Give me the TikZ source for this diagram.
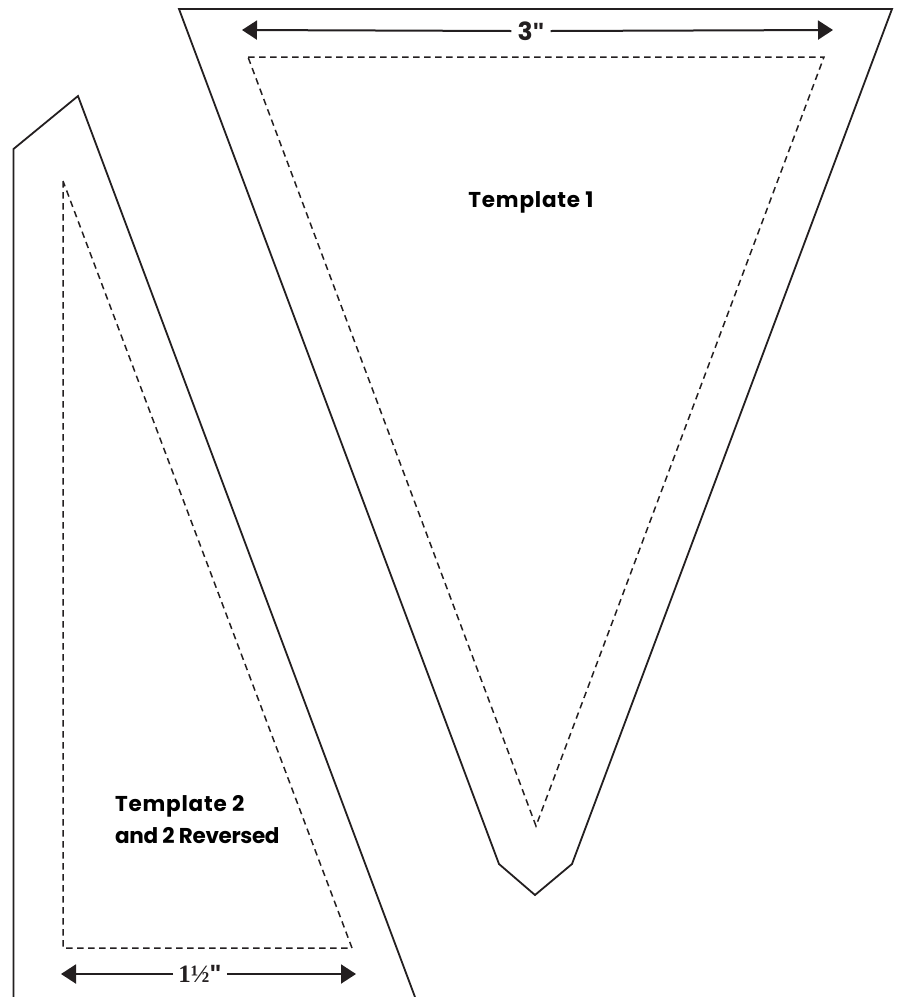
\documentclass[tikz,border=0pt]{standalone}
\usepackage{fontspec}
\setmainfont{Poppins}
\newfontfamily\fracfont{Liberation Serif}
\newfontfamily\quotefont{Liberation Sans}
\usetikzlibrary{arrows.meta,positioning}
\definecolor{inkline}{HTML}{231F20}
\newcommand{\widetext}[1]{{\addfontfeature{LetterSpace=3.6}#1}}
\newcommand{\narrowtext}[1]{{\addfontfeature{LetterSpace=-1.6}#1}}
\tikzset{
  cutline/.style={draw=inkline,line width=1.8pt,line join=miter},
  seamline/.style={draw=inkline,line width=1.5pt,dash pattern=on 6.5pt off 4.5pt},
  measure/.style={draw=inkline,line width=2pt,-{Triangle[width=19pt,length=15pt]}},
  tplabel/.style={align=left,font=\fontsize{21.5}{32}\selectfont\bfseries,text=black,inner sep=0pt},
  sizelabel/.style={font=\fontsize{25}{26}\selectfont\bfseries,text=inkline,inner sep=0pt}
}
\begin{document}
\begin{tikzpicture}[x=1pt,y=-1pt]
   \useasboundingbox (0,0) rectangle (901,997);

   \coordinate (t1a) at (179,9);
   \coordinate (t1b) at (892,9);
   \coordinate (t1c) at (572,864);
   \coordinate (t1d) at (535,895);
   \coordinate (t1e) at (499,864);
   \coordinate (s1a) at (248,57);
   \coordinate (s1b) at (824,57);
   \coordinate (s1c) at (536,826);

   \coordinate (t2a) at (13.5,997);
   \coordinate (t2b) at (13.5,149);
   \coordinate (t2c) at (78,96);
   \coordinate (t2d) at (415,997);
   \coordinate (s2a) at (63,181);
   \coordinate (s2b) at (63,948);
   \coordinate (s2c) at (352,948);

   \coordinate (w1l) at (242,30);
   \coordinate (w1r) at (833,30);
   \coordinate (w2l) at (61,974);
   \coordinate (w2r) at (356,974);

   \node[tplabel] (title1) at (531,202) {\widetext{Template 1}};
   \node[tplabel,anchor=west] (title2) at (115,820) {\widetext{Template 2}\\\narrowtext{and 2 Reversed}};
   \node[sizelabel] (size1) at (531,31) {3{\quotefont\char"22}};
   \node[sizelabel] (size2) at (200,974) {{\fracfont 1½}{\quotefont\char"22}};

   \path[cutline] (t1a) -- (t1b) -- (t1c) -- (t1d) -- (t1e) -- cycle;
   \path[seamline] (s1a) -- (s1b) -- (s1c) -- cycle;
   \path[cutline] (t2a) -- (t2b) -- (t2c) -- (t2d);
   \path[seamline] (s2a) -- (s2b) -- (s2c) -- cycle;

   \path[measure] (size1.west) ++(-6,0) -- (w1l);
   \path[measure] (size1.east) ++(6,0) -- (w1r);
   \path[measure] (size2.west) ++(-5,0) -- (w2l);
   \path[measure] (size2.east) ++(5,0) -- (w2r);
\end{tikzpicture}
\end{document}
